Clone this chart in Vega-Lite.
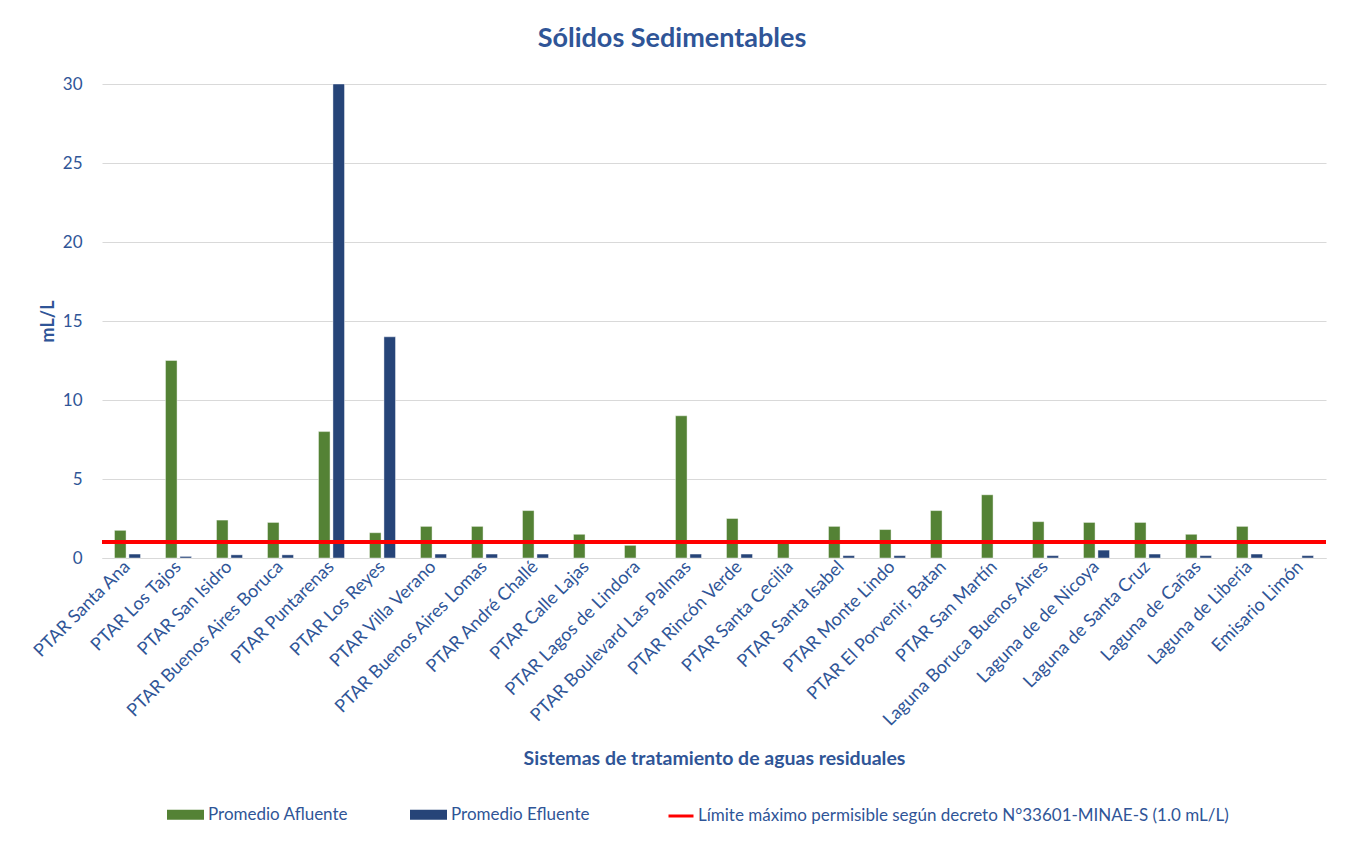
{
  "$schema": "https://vega.github.io/schema/vega-lite/v6.json",
  "autosize": {"type": "none"},
  "width": 1224,
  "height": 474,
  "padding": {"left": 102, "top": 84, "right": 26, "bottom": 283},
  "background": "white",
  "title": {
    "text": "Sólidos Sedimentables",
    "font": "Lato",
    "fontSize": 27,
    "fontWeight": "bold",
    "color": "#2F5597",
    "anchor": "middle",
    "dx": -42,
    "offset": 22
  },
  "data": {
    "values": [
      {"sistema": "PTAR Santa Ana", "serie": "Promedio Afluente", "valor": 1.75},
      {"sistema": "PTAR Santa Ana", "serie": "Promedio Efluente", "valor": 0.25},
      {"sistema": "PTAR Los Tajos", "serie": "Promedio Afluente", "valor": 12.5},
      {"sistema": "PTAR Los Tajos", "serie": "Promedio Efluente", "valor": 0.1},
      {"sistema": "PTAR San Isidro", "serie": "Promedio Afluente", "valor": 2.4},
      {"sistema": "PTAR San Isidro", "serie": "Promedio Efluente", "valor": 0.2},
      {"sistema": "PTAR Buenos Aires Boruca", "serie": "Promedio Afluente", "valor": 2.25},
      {"sistema": "PTAR Buenos Aires Boruca", "serie": "Promedio Efluente", "valor": 0.2},
      {"sistema": "PTAR Puntarenas", "serie": "Promedio Afluente", "valor": 8.0},
      {"sistema": "PTAR Puntarenas", "serie": "Promedio Efluente", "valor": 30.0},
      {"sistema": "PTAR Los Reyes", "serie": "Promedio Afluente", "valor": 1.6},
      {"sistema": "PTAR Los Reyes", "serie": "Promedio Efluente", "valor": 14.0},
      {"sistema": "PTAR Villa Verano", "serie": "Promedio Afluente", "valor": 2.0},
      {"sistema": "PTAR Villa Verano", "serie": "Promedio Efluente", "valor": 0.25},
      {"sistema": "PTAR Buenos Aires Lomas", "serie": "Promedio Afluente", "valor": 2.0},
      {"sistema": "PTAR Buenos Aires Lomas", "serie": "Promedio Efluente", "valor": 0.25},
      {"sistema": "PTAR André Challé", "serie": "Promedio Afluente", "valor": 3.0},
      {"sistema": "PTAR André Challé", "serie": "Promedio Efluente", "valor": 0.25},
      {"sistema": "PTAR Calle Lajas", "serie": "Promedio Afluente", "valor": 1.5},
      {"sistema": "PTAR Lagos de Lindora", "serie": "Promedio Afluente", "valor": 0.8},
      {"sistema": "PTAR Boulevard Las Palmas", "serie": "Promedio Afluente", "valor": 9.0},
      {"sistema": "PTAR Boulevard Las Palmas", "serie": "Promedio Efluente", "valor": 0.25},
      {"sistema": "PTAR Rincón Verde", "serie": "Promedio Afluente", "valor": 2.5},
      {"sistema": "PTAR Rincón Verde", "serie": "Promedio Efluente", "valor": 0.25},
      {"sistema": "PTAR Santa Cecilia", "serie": "Promedio Afluente", "valor": 1.0},
      {"sistema": "PTAR  Santa Isabel", "serie": "Promedio Afluente", "valor": 2.0},
      {"sistema": "PTAR  Santa Isabel", "serie": "Promedio Efluente", "valor": 0.15},
      {"sistema": "PTAR Monte Lindo", "serie": "Promedio Afluente", "valor": 1.8},
      {"sistema": "PTAR Monte Lindo", "serie": "Promedio Efluente", "valor": 0.15},
      {"sistema": "PTAR El Porvenir, Batan", "serie": "Promedio Afluente", "valor": 3.0},
      {"sistema": "PTAR San Martín", "serie": "Promedio Afluente", "valor": 4.0},
      {"sistema": "Laguna Boruca Buenos Aires", "serie": "Promedio Afluente", "valor": 2.3},
      {"sistema": "Laguna Boruca Buenos Aires", "serie": "Promedio Efluente", "valor": 0.15},
      {"sistema": "Laguna  de  de Nicoya", "serie": "Promedio Afluente", "valor": 2.25},
      {"sistema": "Laguna  de  de Nicoya", "serie": "Promedio Efluente", "valor": 0.5},
      {"sistema": "Laguna de  Santa Cruz", "serie": "Promedio Afluente", "valor": 2.25},
      {"sistema": "Laguna de  Santa Cruz", "serie": "Promedio Efluente", "valor": 0.25},
      {"sistema": "Laguna de  Cañas", "serie": "Promedio Afluente", "valor": 1.5},
      {"sistema": "Laguna de  Cañas", "serie": "Promedio Efluente", "valor": 0.15},
      {"sistema": "Laguna  de Liberia", "serie": "Promedio Afluente", "valor": 2.0},
      {"sistema": "Laguna  de Liberia", "serie": "Promedio Efluente", "valor": 0.25},
      {"sistema": "Emisario Limón", "serie": "Promedio Efluente", "valor": 0.15}
    ]
  },
  "layer": [
    {
      "mark": {"type": "bar", "stroke": "#FFFFFF", "strokeWidth": 0.6, "strokeOpacity": 0.7},
      "encoding": {
        "x": {
          "field": "sistema",
          "type": "nominal",
          "sort": null,
          "scale": {"paddingInner": 0.49, "paddingOuter": 0.245},
          "axis": {
            "title": "Sistemas de tratamiento de aguas residuales",
            "titleFont": "Lato",
            "titleFontSize": 19.5,
            "titleFontWeight": "bold",
            "titleColor": "#2F5597",
            "titleY": 200,
            "titleBaseline": "middle",
            "labelAngle": -45,
            "labelAlign": "right",
            "labelBaseline": "middle",
            "labelFont": "Lato",
            "labelFontSize": 18,
            "labelColor": "#2F5597",
            "labelPadding": 6,
            "labelLimit": 400,
            "ticks": false,
            "domainColor": "#D9D9D9",
            "domainWidth": 1,
            "grid": false
          }
        },
        "xOffset": {
          "field": "serie",
          "type": "nominal",
          "sort": ["Promedio Afluente", "Promedio Efluente"],
          "scale": {"domain": ["Promedio Afluente", "Promedio Efluente"], "paddingInner": 0.2, "paddingOuter": 0}
        },
        "y": {
          "field": "valor",
          "type": "quantitative",
          "scale": {"domain": [0, 30], "nice": false},
          "axis": {
            "title": "mL/L",
            "titleFont": "Lato",
            "titleFontSize": 18,
            "titleFontWeight": "bold",
            "titleColor": "#2F5597",
            "titleX": -54,
            "titleBaseline": "middle",
            "values": [0, 5, 10, 15, 20, 25, 30],
            "labelFont": "Lato",
            "labelFontSize": 17,
            "labelColor": "#2F5597",
            "labelPadding": 20,
            "ticks": false,
            "domain": false,
            "gridColor": "#D9D9D9",
            "gridWidth": 1
          }
        },
        "color": {
          "field": "serie",
          "type": "nominal",
          "scale": {"domain": ["Promedio Afluente", "Promedio Efluente"], "range": ["#548235", "#264478"]},
          "legend": {
            "title": null,
            "orient": "none",
            "direction": "horizontal",
            "legendX": 65,
            "legendY": 712,
            "symbolType": "M-1,-0.27H1V0.27H-1Z",
            "symbolSize": 1369,
            "symbolStrokeWidth": 0,
            "symbolOpacity": 1,
            "labelFont": "Lato",
            "labelFontSize": 17,
            "labelColor": "#2F5597",
            "labelOffset": 4,
            "columnPadding": 61
          }
        }
      }
    },
    {
      "mark": {"type": "rule", "strokeWidth": 3},
      "encoding": {
        "y": {"datum": 1},
        "stroke": {
          "datum": "Límite máximo permisible según decreto N°33601-MINAE-S (1.0 mL/L)",
          "type": "nominal",
          "scale": {"range": ["#FF0000"]},
          "legend": {
            "title": null,
            "orient": "none",
            "legendX": 565,
            "legendY": 718,
            "symbolType": "stroke",
            "symbolSize": 625,
            "symbolStrokeWidth": 3,
            "labelFont": "Lato",
            "labelFontSize": 17,
            "labelColor": "#2F5597",
            "labelOffset": 3,
            "labelLimit": 700
          }
        }
      }
    }
  ],
  "config": {
    "view": {"stroke": null}
  }
}
